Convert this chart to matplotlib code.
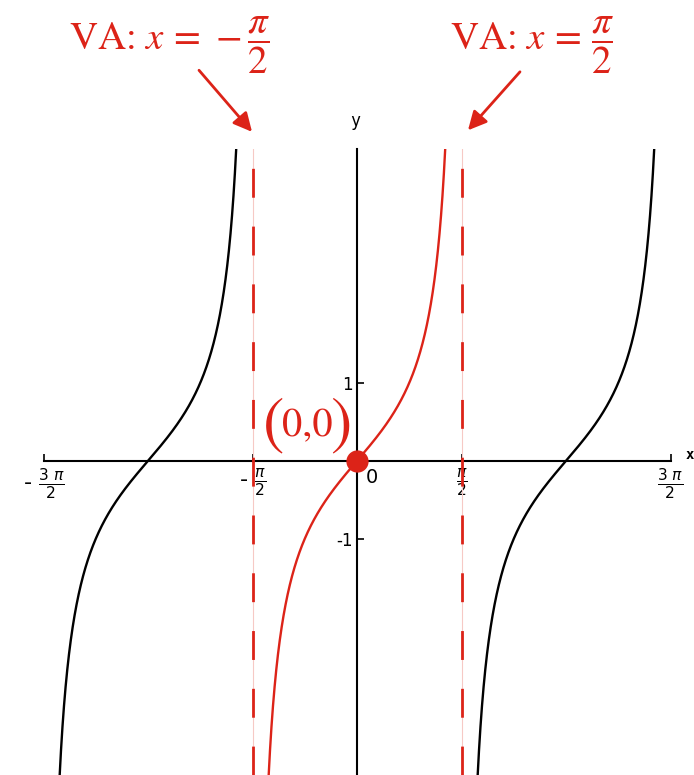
import numpy as np
import matplotlib
matplotlib.use("Agg")
import matplotlib.pyplot as plt

plt.rcParams['mathtext.fontset'] = 'stix'

# ---- data ----
PI = np.pi
x_limits = [-1.5 * PI, 1.5 * PI]
y_limits = [-4.03, 4.0]
black_branches = [(-1.5 * PI, -0.5 * PI), (0.5 * PI, 1.5 * PI)]
red_branch = (-0.5 * PI, 0.5 * PI)
asymptotes = [-0.5 * PI, 0.5 * PI]
x_ticks = [-1.5 * PI, -0.5 * PI, 0.5 * PI, 1.5 * PI]
x_tick_labels = [r'- $\frac{3\ \pi}{2}$', r'- $\frac{\pi}{2}$', r'$\frac{\pi}{2}$', r'$\frac{3\ \pi}{2}$']
y_ticks = [-1, 1]
y_tick_labels = ['-1', '1']
point = (0, 0)

RED = '#dc2318'
PINK = '#f6c9c5'

fig = plt.figure(figsize=(6.94, 7.75), dpi=100)
ax = fig.add_axes([43.5 / 694, 0.0, 627 / 694, (775 - 149) / 775])
ax.set_xlim(x_limits)
ax.set_ylim(y_limits)

eps = 1e-4
for a, b in black_branches:
    xs = np.linspace(a + eps, b - eps, 4000)
    ys = np.tan(xs)
    ys = np.where(np.abs(ys) > 10, np.nan, ys)
    ax.plot(xs, ys, color='black', lw=1.7, zorder=3)

xs = np.linspace(red_branch[0] + eps, red_branch[1] - eps, 4000)
ys = np.tan(xs)
ys = np.where(np.abs(ys) > 10, np.nan, ys)
ax.plot(xs, ys, color=RED, lw=1.7, zorder=4)

for a in asymptotes:
    ax.axvline(a, color=PINK, lw=0.8, zorder=2)
    ax.axvline(a, color=RED, lw=2.0, dashes=(10.4, 10.4), zorder=5)

# axes through origin
for s in ['top', 'right']:
    ax.spines[s].set_visible(False)
ax.spines['left'].set_position('zero')
ax.spines['bottom'].set_position('zero')
ax.spines['left'].set_linewidth(1.5)
ax.spines['bottom'].set_linewidth(1.5)
ax.spines['left'].set_zorder(1)
ax.spines['bottom'].set_zorder(1)

ax.set_xticks(x_ticks)
ax.set_xticklabels(x_tick_labels, fontsize=16, math_fontfamily='dejavusans', family='DejaVu Sans')
ax.tick_params(axis='x', direction='in', length=5, width=1.2, pad=4)
ax.set_yticks(y_ticks)
ax.set_yticklabels(y_tick_labels, fontsize=12, family='DejaVu Sans')
ax.tick_params(axis='y', direction='in', length=5, width=1.2, pad=3)
for lab in ax.get_xticklabels():
    lab.set_clip_on(False)

ax.text(0.225, -0.22, '0', fontsize=14, ha='center', va='center', family='DejaVu Sans')
ax.text(-0.03, 4.36, 'y', fontsize=12, ha='center', va='center', family='DejaVu Sans Mono',
        clip_on=False)
ax.text(5.0, 0.08, 'x', fontsize=10, ha='center', va='center', family='DejaVu Sans Mono',
        fontweight='bold', clip_on=False)

# point (0,0)
ax.plot([point[0]], [point[1]], 'o', color=RED, markersize=15, zorder=6, clip_on=False)
ax.text(-1.10, 0.45, '(', fontsize=46, color=RED, ha='right', va='center', family='STIXGeneral')
ax.text(-0.74, 0.44, '0,0', fontsize=29, color=RED, ha='center', va='center', family='STIXGeneral')
ax.text(-0.40, 0.45, ')', fontsize=46, color=RED, ha='left', va='center', family='STIXGeneral')

# asymptote annotations
arrow = dict(arrowstyle='-|>', color=RED, lw=2, mutation_scale=28, shrinkA=0, shrinkB=0)
ax.annotate('', xy=(-1.578, 4.22), xytext=(-2.375, 5.01), arrowprops=arrow, annotation_clip=False)
ax.annotate('', xy=(1.668, 4.24), xytext=(2.450, 4.99), arrowprops=arrow, annotation_clip=False)
ax.text(-2.811, 5.33, r'VA: $x\,=\,-\dfrac{\pi}{2}$', fontsize=28, color=RED, family='STIXGeneral',
        ha='center', va='center', clip_on=False)
ax.text(2.630, 5.33, r'VA: $x\,=\,\dfrac{\pi}{2}$', fontsize=28, color=RED, family='STIXGeneral',
        ha='center', va='center', clip_on=False)

fig.savefig('out.png', dpi=100)
